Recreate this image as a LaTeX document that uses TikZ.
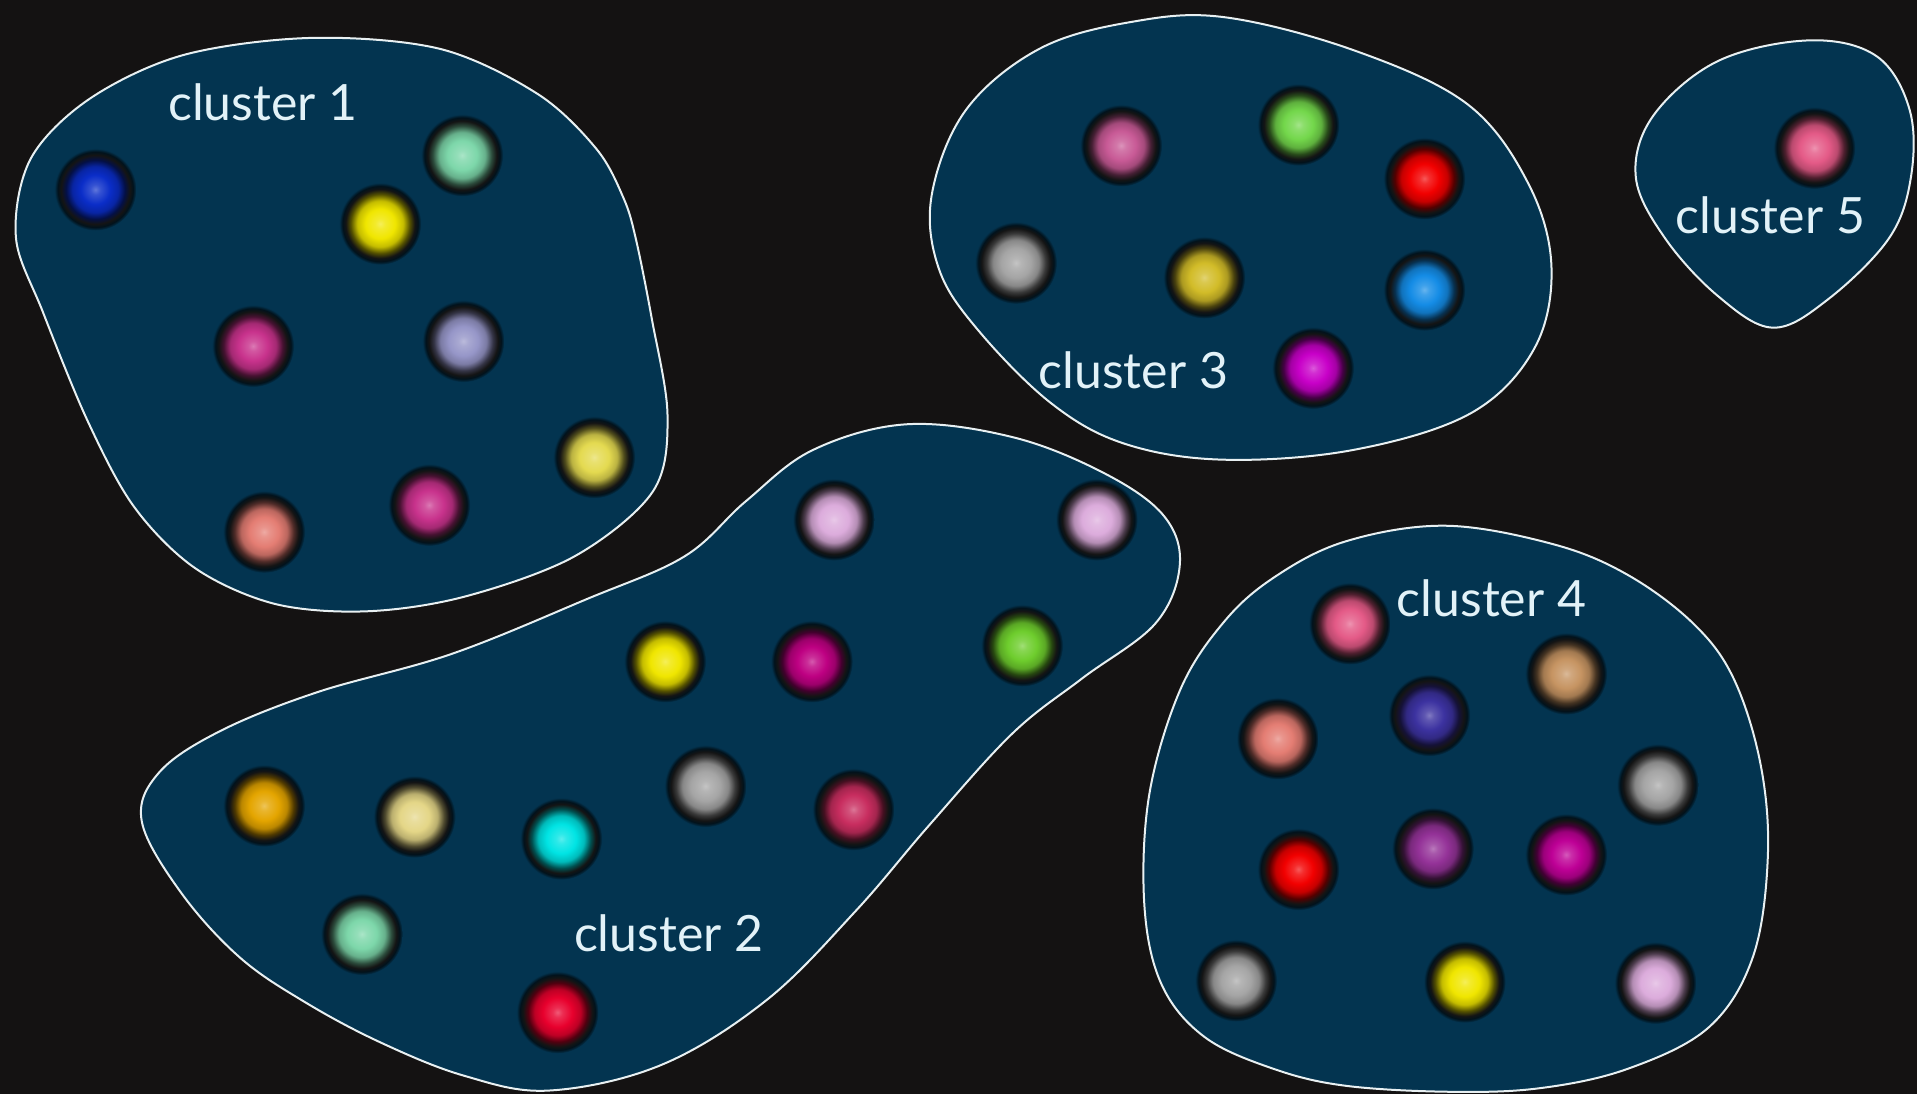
\documentclass[tikz,border=0pt]{standalone}
\usepackage{fontspec}
\setmainfont{Lato}
\definecolor{bgcol}{RGB}{20,18,18}
\definecolor{clfill}{RGB}{3,52,80}
\definecolor{clline}{RGB}{232,240,242}
\definecolor{lblcol}{RGB}{226,242,248}
\colorlet{ballcol}{red}
\pgfdeclareradialshading[ballcol]{ballshade}{\pgfpoint{0bp}{0bp}}{%
  color(0bp)=(ballcol!65!white);
  color(3bp)=(ballcol!82!white);
  color(9bp)=(ballcol);
  color(14bp)=(ballcol!82!black);
  color(18bp)=(ballcol!35!black);
  color(21bp)=(black!92);
  color(23bp)=(black!65!clfill);
  color(25bp)=(clfill);
  color(50bp)=(clfill)}
\tikzset{
  ball/.style={circle, minimum size=41pt, inner sep=0pt,
    /utils/exec={\colorlet{ballcol}{#1}}, shading=ballshade},
  cluster/.style={draw=clline, fill=clfill, line width=1pt},
  lbl/.style={text=lblcol, font=\fontsize{25}{30}\selectfont, inner sep=0pt}
}
\definecolor{cBlue}{RGB}{10,45,200}
\definecolor{cMint}{RGB}{125,215,170}
\definecolor{cYellow}{RGB}{240,230,0}
\definecolor{cPinkMag}{RGB}{200,50,140}
\definecolor{cLav}{RGB}{150,150,200}
\definecolor{cKhaki}{RGB}{228,218,80}
\definecolor{cSalmon}{RGB}{228,125,115}
\definecolor{cLilac}{RGB}{220,172,220}
\definecolor{cMagenta}{RGB}{190,0,130}
\definecolor{cGreen}{RGB}{110,205,45}
\definecolor{cOrange}{RGB}{228,165,0}
\definecolor{cCream}{RGB}{228,214,135}
\definecolor{cCyan}{RGB}{0,228,228}
\definecolor{cGray}{RGB}{165,165,165}
\definecolor{cCrimson}{RGB}{200,45,95}
\definecolor{cRed}{RGB}{232,0,45}
\definecolor{cMauve}{RGB}{200,90,150}
\definecolor{cGreen2}{RGB}{115,215,75}
\definecolor{cPureRed}{RGB}{242,0,0}
\definecolor{cOlive}{RGB}{210,188,40}
\definecolor{cSky}{RGB}{20,140,230}
\definecolor{cPurMag}{RGB}{200,0,200}
\definecolor{cPink}{RGB}{228,90,135}
\definecolor{cTan}{RGB}{198,148,98}
\definecolor{cIndigo}{RGB}{60,50,160}
\definecolor{cPurple}{RGB}{148,50,152}
\definecolor{cMag2}{RGB}{190,0,150}
\begin{document}
\begin{tikzpicture}[x=0.6113pt, y=-0.6113pt]
\fill[bgcol] (0,0) rectangle (1568,895);
\useasboundingbox (0,0) rectangle (1568,895);
% cluster outlines
\draw[cluster] plot[smooth cycle, tension=0.55] coordinates {
 (255,31) (360,40) (440,77) (488,122) (510,162) (520,195) (533,260) (546,340)
 (534,402) (470,455)
 (380,488) (300,500) (225,494) (160,465) (110,415) (72,345) (35,255) (13,194)
 (25,130) (73,81) (150,45)};
\draw[cluster] plot[smooth cycle, tension=0.6] coordinates {
 (742,347) (830,358) (905,388) (952,422) (965,462) (945,510) (885,555) (828,600)
 (760,675) (700,745) (627,818) (541,871) (449,892) (380,880) (312,853) (250,820)
 (196,783) (148,730) (116,672) (130,632) (180,598) (260,566) (369,535) (480,490)
 (560,455) (610,410) (665,368)};
\draw[cluster] plot[smooth cycle, tension=0.6] coordinates {
 (1001,14) (1107,41) (1200,85) (1250,150) (1269,218) (1255,285) (1203,338)
 (1107,368) (1001,376) (920,363) (860,330) (800,270) (768,220) (762,160)
 (790,90) (850,40) (925,18)};
\draw[cluster] plot[smooth cycle, tension=0.6] coordinates {
 (1480,33) (1535,46) (1562,90) (1563,145) (1545,195) (1495,245) (1450,268)
 (1405,242) (1362,195) (1338,145) (1352,95) (1405,50)};
\draw[cluster] plot[smooth cycle, tension=0.6] coordinates {
 (1182,430) (1270,445) (1331,470) (1385,510) (1418,555) (1440,625) (1446,700)
 (1434,782) (1398,840) (1332,874) (1260,890) (1186,893) (1100,888) (1041,874)
 (985,848) (950,805) (936,740) (940,650) (965,565) (1000,510) (1041,473) (1100,443)};
% cluster 1 balls
\node[ball=cBlue] (a1) at (78,155) {};
\node[ball=cMint] (a2) at (378,127) {};
\node[ball=cYellow] (a3) at (311,183) {};
\node[ball=cPinkMag] (a4) at (207,283) {};
\node[ball=cLav] (a5) at (379,279) {};
\node[ball=cKhaki] (a6) at (486,374) {};
\node[ball=cPinkMag] (a7) at (351,413) {};
\node[ball=cSalmon] (a8) at (216,435) {};
% cluster 2 balls
\node[ball=cLilac] (b1) at (682,425) {};
\node[ball=cLilac] (b2) at (897,425) {};
\node[ball=cYellow] (b3) at (544,541) {};
\node[ball=cMagenta] (b4) at (664,541) {};
\node[ball=cGreen] (b5) at (836,528) {};
\node[ball=cOrange] (b6) at (216,659) {};
\node[ball=cCream] (b7) at (339,668) {};
\node[ball=cCyan] (b8) at (459,686) {};
\node[ball=cGray] (b9) at (577,643) {};
\node[ball=cCrimson] (b10) at (698,662) {};
\node[ball=cMint] (b11) at (296,764) {};
\node[ball=cRed] (b12) at (456,828) {};
% cluster 3 balls
\node[ball=cMauve] (c1) at (917,119) {};
\node[ball=cGreen2] (c2) at (1062,102) {};
\node[ball=cPureRed] (c3) at (1165,146) {};
\node[ball=cGray] (c4) at (831,215) {};
\node[ball=cOlive] (c5) at (985,227) {};
\node[ball=cSky] (c6) at (1165,237) {};
\node[ball=cPurMag] (c7) at (1074,301) {};
% cluster 5 ball
\node[ball=cPink] (e1) at (1484,121) {};
% cluster 4 balls
\node[ball=cPink] (d1) at (1104,510) {};
\node[ball=cTan] (d2) at (1281,551) {};
\node[ball=cIndigo] (d3) at (1169,585) {};
\node[ball=cSalmon] (d4) at (1045,604) {};
\node[ball=cGray] (d5) at (1356,642) {};
\node[ball=cPureRed] (d6) at (1062,711) {};
\node[ball=cPurple] (d7) at (1172,694) {};
\node[ball=cMag2] (d8) at (1281,699) {};
\node[ball=cGray] (d9) at (1011,802) {};
\node[ball=cYellow] (d10) at (1198,803) {};
\node[ball=cLilac] (d11) at (1354,804) {};
% labels
\node[lbl] (l1) at (215,84) {cluster 1};
\node[lbl] (l2) at (547,763) {cluster 2};
\node[lbl] (l3) at (927,303) {cluster 3};
\node[lbl] (l4) at (1220,489) {cluster 4};
\node[lbl] (l5) at (1448,176) {cluster 5};
\end{tikzpicture}
\end{document}
